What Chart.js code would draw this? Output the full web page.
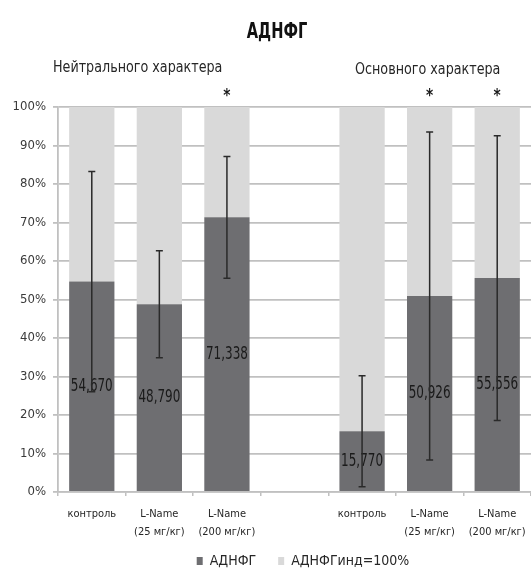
<!DOCTYPE html>
<html>
<head>
<meta charset="utf-8">
<style>
  html, body { margin: 0; padding: 0; background: #ffffff; }
  #wrap { width: 531px; height: 569px; }
</style>
<script src="https://cdn.jsdelivr.net/npm/chart.js@4/dist/chart.umd.min.js"></script>
</head>
<body>
<div id="wrap"><canvas id="chart" width="531" height="569"></canvas></div>
<script>
// Categories: two groups of three, separated by an empty slot
const categories = [
  'контроль', ['L-Name', '(25 мг/кг)'], ['L-Name', '(200 мг/кг)'],
  '',
  'контроль', ['L-Name', '(25 мг/кг)'], ['L-Name', '(200 мг/кг)']
];
// АДНФГ, % of the induced level
const adnfg = [54.670, 48.790, 71.338, null, 15.770, 50.926, 55.556];
// Error bar half-widths, %
const errors = [28.6, 13.9, 15.8, null, 14.4, 42.6, 37.0];
// Bars marked with an asterisk
const significant = [false, false, true, false, false, true, true];
const chartTitle = 'АДНФГ';
const groupTitles = ['Нейтрального характера', 'Основного характера'];
const seriesNames = ['АДНФГ', 'АДНФГинд=100%'];
const yTickValues = [0, 10, 20, 30, 40, 50, 60, 70, 80, 90, 100];

// Light part of each column fills up to 100%
const remainder = adnfg.map(v => v == null ? null : 100 - v);

const FONT = "'DejaVu Sans Condensed', 'DejaVu Sans', sans-serif";
const TEXT = '#262626';
const DARK = '#6e6e71';
const LIGHT = '#d9d9d9';
const GRID = '#c0c0c0';

const fmt = v => v.toFixed(3).replace('.', ',');

// text drawn narrower than the font's natural width
function narrowText(ctx, text, x, y, sx) {
  ctx.save();
  ctx.translate(x, y);
  ctx.scale(sx, 1);
  ctx.fillText(text, 0, 0);
  ctx.restore();
}

const overlay = {
  id: 'overlay',
  afterLayout(chart) {
    // nudge the legend row under the plot
    const lg = chart.legend;
    if (lg) {
      lg.left += 37; lg.right += 37;
      lg.top -= 14; lg.bottom -= 14;
    }
  },
  afterDatasetsDraw(chart) {
    const ctx = chart.ctx;
    const ys = chart.scales.y;
    const meta = chart.getDatasetMeta(0);
    ctx.save();
    // value labels in the middle of the dark bars
    ctx.fillStyle = '#1a1a1a';
    ctx.font = `18px ${FONT}`;
    ctx.textAlign = 'center';
    ctx.textBaseline = 'middle';
    meta.data.forEach((bar, i) => {
      if (adnfg[i] == null) return;
      narrowText(ctx, fmt(adnfg[i]), bar.x, (bar.y + bar.base) / 2, 0.74);
    });
    // error bars
    ctx.strokeStyle = '#2a2a2a';
    ctx.lineWidth = 1.5;
    meta.data.forEach((bar, i) => {
      if (adnfg[i] == null || errors[i] == null) return;
      const top = ys.getPixelForValue(adnfg[i] + errors[i]);
      const bot = ys.getPixelForValue(Math.max(0, adnfg[i] - errors[i]));
      ctx.beginPath();
      ctx.moveTo(bar.x, top); ctx.lineTo(bar.x, bot);
      ctx.moveTo(bar.x - 3.5, top); ctx.lineTo(bar.x + 3.5, top);
      ctx.moveTo(bar.x - 3.5, bot); ctx.lineTo(bar.x + 3.5, bot);
      ctx.stroke();
    });
    ctx.restore();
  },
  afterDraw(chart) {
    const ctx = chart.ctx;
    const area = chart.chartArea;
    const meta = chart.getDatasetMeta(0);
    ctx.save();
    ctx.textBaseline = 'middle';
    // title
    ctx.fillStyle = '#111111';
    ctx.font = `bold 22px ${FONT}`;
    ctx.textAlign = 'center';
    narrowText(ctx, chartTitle, 277, area.top - 75, 0.74);
    // asterisks above the marked bars
    ctx.fillStyle = '#1a1a1a';
    ctx.font = `bold 17px ${FONT}`;
    meta.data.forEach((bar, i) => {
      if (significant[i]) narrowText(ctx, '*', bar.x, area.top - 10, 0.9);
    });
    // group headings
    ctx.font = `16px ${FONT}`;
    ctx.textAlign = 'left';
    ctx.fillStyle = TEXT;
    narrowText(ctx, groupTitles[0], area.left - 5, area.top - 39, 0.885);
    narrowText(ctx, groupTitles[1], 355, area.top - 37, 0.885);
    ctx.restore();
  }
};

new Chart(document.getElementById('chart'), {
  type: 'bar',
  data: {
    labels: categories,
    datasets: [
      { label: seriesNames[0], data: adnfg, backgroundColor: DARK, borderWidth: 0 },
      { label: seriesNames[1], data: remainder, backgroundColor: LIGHT, borderWidth: 0 }
    ]
  },
  options: {
    responsive: false,
    animation: false,
    devicePixelRatio: 1,
    layout: { padding: { left: 0, right: -1, top: 107, bottom: -23 } },
    datasets: { bar: { categoryPercentage: 1, barPercentage: 0.67 } },
    scales: {
      x: {
        stacked: true,
        grid: { drawOnChartArea: false, color: GRID, lineWidth: 1.5, tickLength: 4, offset: true },
        border: { color: GRID, width: 1.5 },
        ticks: { color: TEXT, font: { family: FONT, size: 11, lineHeight: 1.65 }, padding: 9, maxRotation: 0, autoSkip: false },
        afterFit(scale) {
          scale.height = 54;
          scale.paddingLeft = 0;
          scale.paddingRight = 0;
        }
      },
      y: {
        stacked: true,
        min: 0, max: 100,
        afterBuildTicks(scale) { scale.ticks = yTickValues.map(v => ({ value: v })); },
        grid: { color: GRID, lineWidth: 1.8, tickLength: 5 },
        border: { color: GRID, width: 1.8 },
        ticks: { color: '#3a3a3a', font: { family: FONT, size: 13 }, padding: 7, callback: v => v + '%' },
        afterFit(scale) { scale.width = 58; }
      }
    },
    plugins: {
      title: { display: false },
      legend: {
        position: 'bottom',
        labels: {
          color: TEXT,
          font: { family: FONT, size: 14 },
          boxWidth: 6, boxHeight: 8,
          padding: 22
        }
      },
      tooltip: { enabled: false }
    }
  },
  plugins: [overlay]
});
</script>
</body>
</html>
